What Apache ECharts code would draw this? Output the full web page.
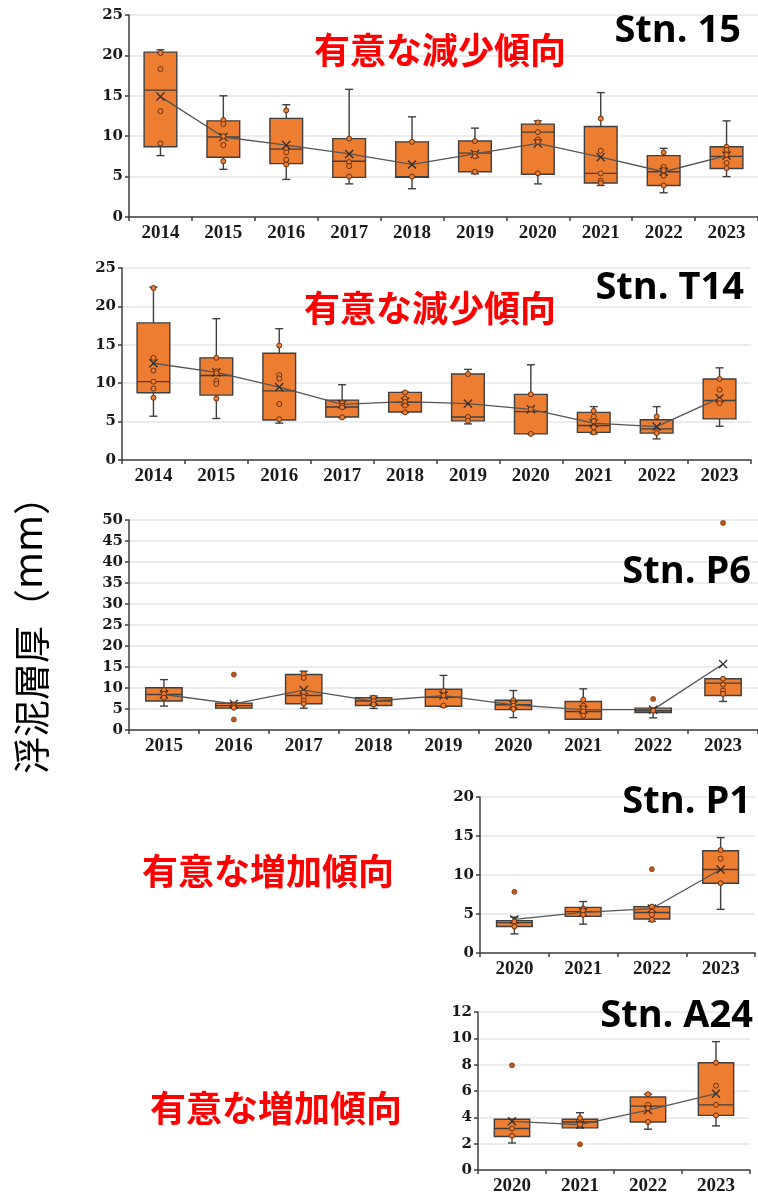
<!DOCTYPE html>
<html>
<head>
<meta charset="utf-8">
<script src="https://cdn.jsdelivr.net/npm/echarts@6/dist/echarts.min.js"></script>
<style>
  html, body { margin: 0; padding: 0; background: #ffffff; }
  #chart { width: 758px; height: 1201px; }
</style>
</head>
<body>
<div id="chart"></div>
<script>
// ---- Stn. 15 ----
const years15 = ['2014', '2015', '2016', '2017', '2018', '2019', '2020', '2021', '2022', '2023'];
// [lower whisker, Q1, median, Q3, upper whisker]
const box15 = [
  [7.6, 8.7, 15.7, 20.4, 20.7], [5.9, 7.4, 9.9, 11.9, 15.0], [4.65, 6.6, 8.4, 12.2, 13.9],
  [4.1, 4.9, 6.9, 9.7, 15.8], [3.5, 4.9, 5.0, 9.3, 12.4], [5.35, 5.6, 7.9, 9.4, 11.0],
  [4.1, 5.3, 10.5, 11.5, 11.9], [3.9, 4.2, 5.4, 11.2, 15.4], [3.0, 3.9, 5.6, 7.6, 8.5],
  [5.0, 6.0, 7.5, 8.7, 11.9]
];
const mean15 = [14.9, 9.9, 8.9, 7.8, 6.5, 7.8, 9.1, 7.4, 5.6, 7.6];
const pts15 = [
  [20.3, 18.3, 13.1, 9.1], [12.0, 11.5, 10.0, 8.9, 6.9], [13.2, 8.4, 8.0, 7.1, 6.5],
  [9.7, 6.8, 6.3, 5.0], [9.3, 5.0], [9.4, 7.8, 7.5, 5.6], [11.7, 10.5, 9.6, 9.3, 5.4],
  [12.2, 8.2, 5.4, 4.5, 4.2], [8.0, 6.2, 5.8, 5.1, 3.9], [8.7, 8.3, 7.7, 6.7, 6.05]
];
const out15 = [[], [], [], [], [], [], [], [], [], []];

// ---- Stn. T14 ----
const yearsT14 = ['2014', '2015', '2016', '2017', '2018', '2019', '2020', '2021', '2022', '2023'];
const boxT14 = [
  [5.7, 8.75, 10.2, 17.85, 22.5], [5.4, 8.45, 11.0, 13.3, 18.4], [4.8, 5.2, 9.0, 13.9, 17.1],
  [5.5, 5.6, 6.9, 7.8, 9.8], [6.15, 6.25, 7.5, 8.8, 8.85], [4.7, 5.1, 5.6, 11.2, 11.8],
  [3.4, 3.4, 6.3, 8.55, 12.4], [3.4, 3.6, 4.5, 6.2, 6.95], [2.75, 3.5, 4.05, 5.25, 6.95],
  [4.4, 5.35, 7.75, 10.55, 12.0]
];
const meanT14 = [12.6, 11.4, 9.5, 7.25, 7.6, 7.35, 6.6, 4.8, 4.35, 8.05];
const ptsT14 = [
  [22.4, 13.3, 11.65, 10.2, 9.3, 8.1], [13.3, 11.55, 11.3, 10.3, 9.9, 8.0],
  [14.9, 11.05, 10.6, 7.3, 5.3], [7.45, 7.1, 6.85, 5.55], [8.8, 8.0, 7.55, 7.1, 6.2],
  [11.2, 5.6, 5.1], [8.55, 6.6, 3.4], [6.4, 5.65, 5.05, 4.25, 3.6], [5.65, 3.5],
  [10.55, 9.15, 7.75, 7.4]
];
const outT14 = [[], [], [], [], [], [], [], [], [], []];

// ---- Stn. P6 ----
const yearsP6 = ['2015', '2016', '2017', '2018', '2019', '2020', '2021', '2022', '2023'];
const boxP6 = [
  [5.7, 6.9, 8.45, 10.05, 12.0], [5.2, 5.2, 5.8, 6.4, 6.5], [5.2, 6.25, 8.2, 13.2, 14.0],
  [5.15, 5.85, 6.9, 7.7, 8.1], [5.5, 5.65, 7.8, 9.7, 13.0], [2.95, 4.85, 6.0, 7.1, 9.4],
  [2.55, 2.55, 4.4, 6.8, 9.8], [2.9, 4.15, 4.6, 5.2, 5.2], [6.8, 8.2, 11.15, 12.2, 12.2]
];
const meanP6 = [8.45, 6.2, 9.5, 6.9, 8.2, 6.0, 4.85, 4.85, 15.7];
const ptsP6 = [
  [9.5, 8.6, 7.7], [6.1, 5.7, 5.3], [13.4, 12.4, 8.9, 7.9, 7.0, 6.25], [7.7, 6.9, 6.1],
  [9.3, 8.2, 5.8], [7.1, 6.4, 5.8, 5.0], [7.2, 5.8, 5.2, 4.4, 3.4], [4.6], [12.2, 10.8, 9.4, 8.6]
];
const outP6 = [[], [13.2, 2.5], [], [], [], [], [], [7.4], [49.3]];

// ---- Stn. P1 ----
const yearsP1 = ['2020', '2021', '2022', '2023'];
const boxP1 = [
  [2.45, 3.4, 3.9, 4.15, 4.6], [3.7, 4.7, 5.3, 5.85, 6.6],
  [4.05, 4.35, 5.2, 5.95, 6.05], [5.6, 8.95, 10.7, 13.1, 14.8]
];
const meanP1 = [4.3, 5.2, 5.7, 10.7];
const ptsP1 = [[4.05, 3.4], [5.7, 5.45, 4.9], [5.95, 5.3, 4.9, 4.25], [13.2, 12.1, 8.95]];
const outP1 = [[7.85], [], [10.75], []];

// ---- Stn. A24 ----
const yearsA24 = ['2020', '2021', '2022', '2023'];
const boxA24 = [
  [2.05, 2.55, 3.15, 3.85, 3.85], [3.2, 3.2, 3.65, 3.85, 4.35],
  [3.1, 3.65, 4.85, 5.55, 5.75], [3.35, 4.15, 4.95, 8.15, 9.75]
];
const meanA24 = [3.7, 3.45, 4.55, 5.8];
const ptsA24 = [[3.15, 2.6], [3.95, 3.45], [5.75, 4.95, 4.7, 3.65], [8.15, 6.4, 4.95, 4.15]];
const outA24 = [[7.95], [1.95], [], []];

// ---- panel axis ranges ----
const yMax = [25, 25, 50, 20, 12];
const yStep = [5, 5, 5, 5, 2];

const panels = [
  { years: years15, box: box15, mean: mean15, pts: pts15, out: out15 },
  { years: yearsT14, box: boxT14, mean: meanT14, pts: ptsT14, out: outT14 },
  { years: yearsP6, box: boxP6, mean: meanP6, pts: ptsP6, out: outP6 },
  { years: yearsP1, box: boxP1, mean: meanP1, pts: ptsP1, out: outP1 },
  { years: yearsA24, box: boxA24, mean: meanA24, pts: ptsA24, out: outA24 }
];

const grids = [
  { left: 129, top: 15, width: 630, height: 202 },
  { left: 122, top: 268, width: 629, height: 192 },
  { left: 129, top: 520, width: 630, height: 210 },
  { left: 480, top: 797, width: 275, height: 156 },
  { left: 478, top: 1012, width: 272, height: 158 }
];

const AXIS = '#3f3f3f';
const ORANGE = '#ED7D31';
const CROSS = 'path://M1,0 L5,4 L9,0 L10,1 L6,5 L10,9 L9,10 L5,6 L1,10 L0,9 L4,5 L0,1 Z';

// box + whiskers with short caps, drawn on the panel's own scales
function renderBox(params, api) {
  const i = api.value(0);
  const lo = api.coord([i, api.value(1)]);
  const q1 = api.coord([i, api.value(2)]);
  const md = api.coord([i, api.value(3)]);
  const q3 = api.coord([i, api.value(4)]);
  const hi = api.coord([i, api.value(5)]);
  const band = api.size([1, 0])[0];
  const hw = band * 0.26;
  const cap = 4;
  const cx = q1[0];
  const ls = { stroke: AXIS, lineWidth: 1.4, fill: null };
  return {
    type: 'group',
    children: [
      { type: 'line', shape: { x1: cx, y1: hi[1], x2: cx, y2: q3[1] }, style: ls },
      { type: 'line', shape: { x1: cx, y1: q1[1], x2: cx, y2: lo[1] }, style: ls },
      { type: 'line', shape: { x1: cx - cap, y1: hi[1], x2: cx + cap, y2: hi[1] }, style: ls },
      { type: 'line', shape: { x1: cx - cap, y1: lo[1], x2: cx + cap, y2: lo[1] }, style: ls },
      { type: 'rect', shape: { x: cx - hw, y: q3[1], width: 2 * hw, height: Math.max(q1[1] - q3[1], 1.5) },
        style: { fill: ORANGE, stroke: AXIS, lineWidth: 1.4 } },
      { type: 'line', shape: { x1: cx - hw, y1: md[1], x2: cx + hw, y2: md[1] }, style: ls }
    ]
  };
}

const xAxes = [], yAxes = [], series = [];
panels.forEach((p, k) => {
  xAxes.push({
    gridIndex: k, type: 'category', data: p.years, boundaryGap: true,
    axisLine: { show: true, lineStyle: { color: AXIS, width: 1.5 } },
    axisTick: { show: true, length: 4, lineStyle: { color: AXIS, width: 1.5 } },
    axisLabel: { fontFamily: 'Liberation Serif', fontWeight: 'bold', fontSize: 19, color: '#1a1a1a', margin: 7 },
    splitLine: { show: false }
  });
  yAxes.push({
    gridIndex: k, type: 'value', min: 0, max: yMax[k], interval: yStep[k],
    axisLine: { show: true, lineStyle: { color: AXIS, width: 1.5 } },
    axisTick: { show: true, length: 4, lineStyle: { color: AXIS, width: 1.5 } },
    axisLabel: { fontFamily: 'DejaVu Serif', fontWeight: 'bold', fontSize: 15, color: '#1a1a1a', margin: 6 },
    splitLine: { show: true, lineStyle: { color: '#e6e6e6', width: 1.5 } }
  });
  series.push({
    type: 'custom', xAxisIndex: k, yAxisIndex: k, renderItem: renderBox, z: 2,
    encode: { x: 0, y: [1, 2, 3, 4, 5] },
    data: p.box.map((b, i) => [i].concat(b))
  });
  const inner = [];
  p.pts.forEach((arr, i) => arr.forEach(v => inner.push([i, v])));
  const outer = [];
  p.out.forEach((arr, i) => arr.forEach(v => outer.push([i, v])));
  series.push({
    type: 'line', xAxisIndex: k, yAxisIndex: k, data: p.mean, z: 3,
    symbol: CROSS, symbolSize: 9, showAllSymbol: true,
    lineStyle: { color: '#555555', width: 1.3 },
    itemStyle: { color: '#2b2b2b' }
  });
  series.push({
    type: 'scatter', xAxisIndex: k, yAxisIndex: k, data: inner, z: 4,
    symbol: 'circle', symbolSize: 5,
    itemStyle: { color: ORANGE, borderColor: '#6a3110', borderWidth: 1, opacity: 1 }
  });
  series.push({
    type: 'scatter', xAxisIndex: k, yAxisIndex: k, data: outer, z: 4,
    symbol: 'circle', symbolSize: 5,
    itemStyle: { color: '#b9581c', borderColor: '#8a3d10', borderWidth: 0.8, opacity: 1 }
  });
});

// station names and trend notes
const stnFont = { fontFamily: 'Open Sans', fontWeight: 'bold', fontSize: 38, fill: '#000000' };
const noteFont = { fontFamily: 'Noto Sans CJK JP', fontWeight: 'bold', fontSize: 36, fill: '#ff0000' };
function label(text, x, y, st, align) {
  return { type: 'text', x: x, y: y, z: 100,
    style: Object.assign({ text: text, textAlign: align || 'center', textVerticalAlign: 'middle' }, st) };
}
const graphics = [
  label('Stn. 15', 741, 31, stnFont, 'right'),
  label('有意な減少傾向', 440, 50, noteFont),
  label('Stn. T14', 744, 288, stnFont, 'right'),
  label('有意な減少傾向', 430, 308, noteFont),
  label('Stn. P6', 751, 572, stnFont, 'right'),
  label('Stn. P1', 751, 802, stnFont, 'right'),
  label('有意な増加傾向', 268, 871, noteFont),
  label('Stn. A24', 753, 1016, stnFont, 'right'),
  label('有意な増加傾向', 276, 1108, noteFont),
  { type: 'text', x: 32, y: 626, rotation: Math.PI / 2, z: 100,
    style: { text: '{a|浮泥層厚（}{b|mm}{a|）}', textAlign: 'center', textVerticalAlign: 'middle',
      rich: {
        a: { fontFamily: 'Noto Sans CJK JP', fontSize: 37, fill: '#000000' },
        b: { fontFamily: 'DejaVu Sans', fontSize: 38, fill: '#000000' }
      } } }
];

const chart = echarts.init(document.getElementById('chart'), null, { renderer: 'canvas' });
chart.setOption({
  backgroundColor: '#ffffff',
  animation: false,
  grid: grids,
  xAxis: xAxes,
  yAxis: yAxes,
  series: series,
  graphic: graphics
});
</script>
</body>
</html>
